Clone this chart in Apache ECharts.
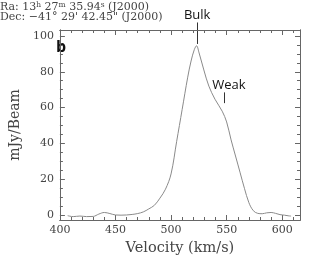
<!DOCTYPE html>
<html><head><meta charset="utf-8">
<script src="https://cdn.jsdelivr.net/npm/echarts@6/dist/echarts.min.js"></script>
<style>html,body{margin:0;padding:0;background:#fff}#c{width:312px;height:261px}</style>
</head><body><div id="c"></div>
<script>
// ---- data ----
const velocity = [407, 412, 418, 424, 430, 435, 440, 445, 450, 455, 460, 465, 470, 475, 480, 485, 490, 495, 500, 505, 510, 515, 518, 521, 523, 525, 529.5, 534, 539.5, 546, 550, 554, 558, 562, 566, 570, 574, 578, 582, 586, 590, 594, 598, 602, 606, 608];
const flux =     [-0.3, -0.8, -0.5, -0.8, -0.7, 0.6, 1.5, 0.9, 0.1, 0.0, 0.1, 0.4, 0.9, 1.8, 3.5, 5.5, 9.5, 14.5, 23, 41, 59, 77, 86, 92.5, 94.5, 91, 81, 72, 64.7, 58, 52, 42, 33, 24, 15, 7, 2.5, 1.0, 0.8, 1.3, 1.5, 1.0, 0.3, 0.0, -0.4, -0.5];
const xMajorTicks = [400, 450, 500, 550, 600];
const xMinorTicks = [410, 420, 430, 440, 460, 470, 480, 490, 510, 520, 530, 540, 560, 570, 580, 590, 610];
const yMajorTicks = [0, 20, 40, 60, 80, 100];
const yMinorTicks = [5, 10, 15, 25, 30, 35, 45, 50, 55, 65, 70, 75, 85, 90, 95];
const xRange = [400, 616];
const yRange = [-2.7, 103.3];
const bulkMark = {label: 'Bulk', velocity: 523.5, from: 95.5, to: 107.5};
const weakMark = {label: 'Weak', velocity: 547.6, from: 62.5, to: 68.5};
const panelLabel = 'b';
const xTitle = 'Velocity (km/s)';
const yTitle = 'mJy/Beam';

// ---- chart ----
const chart = echarts.init(document.getElementById('c'), null, {renderer: 'canvas'});
const serif = '"DejaVu Serif", serif';
const axisCol = '#666';
const textCol = '#444';

function xAx(pos, ticks, len, labels, extra) {
  return Object.assign({
    type: 'value', position: pos, min: xRange[0], max: xRange[1],
    axisLine: {show: true, onZero: false, lineStyle: {color: axisCol, width: 1}},
    axisTick: {show: true, inside: true, length: len, customValues: ticks, lineStyle: {color: axisCol}},
    axisLabel: labels ? {show: true, customValues: ticks, color: textCol, fontFamily: serif, fontSize: 11, margin: 5} : {show: false},
    splitLine: {show: false}
  }, extra || {});
}
function yAx(pos, ticks, len, labels, extra) {
  return Object.assign({
    type: 'value', position: pos, min: yRange[0], max: yRange[1],
    axisLine: {show: true, onZero: false, lineStyle: {color: axisCol, width: 1}},
    axisTick: {show: true, inside: true, length: len, customValues: ticks, lineStyle: {color: axisCol}},
    axisLabel: labels ? {show: true, customValues: ticks, color: textCol, fontFamily: serif, fontSize: 11, margin: 6} : {show: false},
    splitLine: {show: false}
  }, extra || {});
}

const seriesData = velocity.map((v, i) => [v, flux[i]]);

chart.setOption({
  animation: false,
  grid: {left: 48, right: 12, top: 30, bottom: 38, containLabel: false},
  xAxis: [
    xAx('bottom', xMajorTicks, 5, true, {name: xTitle, nameLocation: 'middle', nameGap: 21,
      nameTextStyle: {fontFamily: serif, fontSize: 14.5, color: textCol}}),
    xAx('bottom', xMinorTicks, 3, false),
    xAx('top', xMajorTicks, 5, false),
    xAx('top', xMinorTicks, 3, false)
  ],
  yAxis: [
    yAx('left', yMajorTicks, 5, true, {name: yTitle, nameLocation: 'middle', nameGap: 29,
      nameTextStyle: {fontFamily: serif, fontSize: 14, color: textCol}}),
    yAx('left', yMinorTicks, 3, false),
    yAx('right', yMajorTicks, 5, false),
    yAx('right', yMinorTicks, 3, false)
  ],
  series: [{
    type: 'line', xAxisIndex: 0, yAxisIndex: 0, data: seriesData,
    showSymbol: false, smooth: 0.35, clip: false,
    lineStyle: {color: '#8a8a8a', width: 1}
  }]
});

const px = (v, f) => chart.convertToPixel({xAxisIndex: 0, yAxisIndex: 0}, [v, f]);
const bTop = px(bulkMark.velocity, bulkMark.to), bBot = px(bulkMark.velocity, bulkMark.from);
const wTop = px(weakMark.velocity, weakMark.to), wBot = px(weakMark.velocity, weakMark.from);
const markStyle = {stroke: '#333', lineWidth: 1};

chart.setOption({
  graphic: [
    {type: 'line', shape: {x1: Math.round(bTop[0]) + 0.5, y1: bTop[1], x2: Math.round(bBot[0]) + 0.5, y2: bBot[1]}, style: markStyle},
    {type: 'line', shape: {x1: Math.round(wTop[0]) + 0.5, y1: wTop[1], x2: Math.round(wBot[0]) + 0.5, y2: wBot[1]}, style: markStyle},
    {type: 'text', x: 0, y: 1, style: {
      text: 'Ra: 13{s|h} 27{s|m} 35.94{s|s} (J2000)',
      fontFamily: serif, fontSize: 11, fill: textCol, textVerticalAlign: 'top',
      rich: {s: {fontFamily: serif, fontSize: 7.5, fill: textCol, verticalAlign: 'top', padding: [0, 0, 5, 0]}}
    }},
    {type: 'text', x: 0, y: 12, style: {
      text: 'Dec: \u221241\u00b0 29\' 42.45" (J2000)',
      fontFamily: serif, fontSize: 11, fill: textCol, textVerticalAlign: 'top'
    }},
    {type: 'text', x: bTop[0], y: bTop[1] - 1, style: {
      text: bulkMark.label, fontFamily: '"Open Sans", sans-serif', fontSize: 13, fill: '#111',
      textAlign: 'center', textVerticalAlign: 'bottom'
    }},
    {type: 'text', x: wTop[0] + 5, y: wTop[1] - 1, style: {
      text: weakMark.label, fontFamily: '"Open Sans", sans-serif', fontSize: 13, fill: '#111',
      textAlign: 'center', textVerticalAlign: 'bottom'
    }},
    {type: 'text', x: 56, y: 39, style: {
      text: panelLabel, fontFamily: '"Open Sans", sans-serif', fontWeight: 'bold', fontSize: 16, fill: '#111',
      textVerticalAlign: 'top'
    }}
  ]
});
</script></body></html>
